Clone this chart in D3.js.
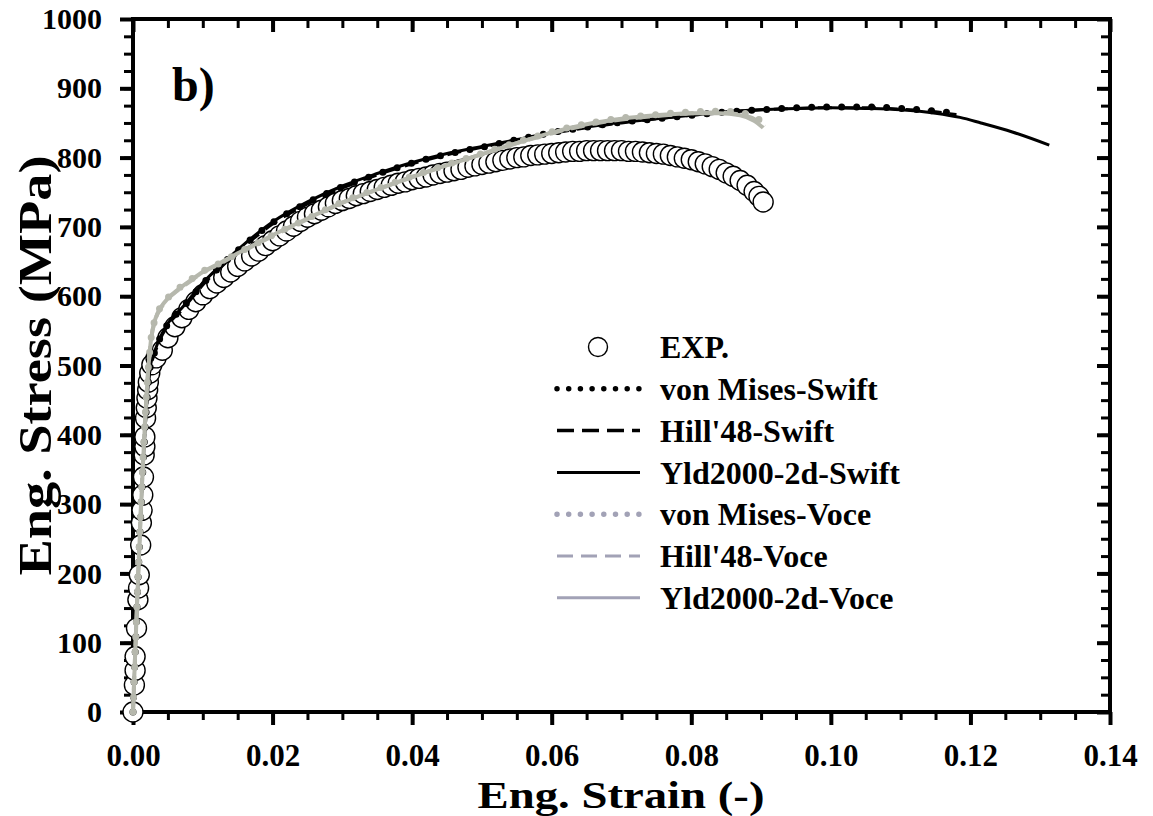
<!DOCTYPE html>
<html>
<head>
<meta charset="utf-8">
<title>Eng. stress-strain b)</title>
<script src="https://cdnjs.cloudflare.com/ajax/libs/d3/7.8.5/d3.min.js"></script>
<style>
  html, body { margin: 0; padding: 0; background: #fff; }
  svg { display: block; font-family: 'Liberation Serif', 'Times New Roman', serif; font-weight: bold; }
</style>
</head>
<body>
<svg id="chart" width="1153" height="816"></svg>
<script>
// experiment (circles)
const expStrain = [0, 0.0002, 0.0003, 0.0003, 0.0005, 0.0007, 0.0008, 0.0009, 0.0011, 0.0012, 0.0013, 0.0014, 0.0015, 0.0016, 0.0017, 0.0017, 0.0018, 0.0019, 0.002, 0.0021, 0.0022, 0.0024, 0.0027, 0.0033, 0.0042,
  0.005, 0.006, 0.007, 0.008, 0.009, 0.010, 0.011, 0.012, 0.013, 0.014, 0.015, 0.016, 0.017, 0.018, 0.019, 0.020,
  0.021, 0.022, 0.023, 0.024, 0.025, 0.026, 0.027, 0.028, 0.029, 0.030, 0.031, 0.032, 0.033, 0.034, 0.035,
  0.036, 0.037, 0.038, 0.039, 0.040, 0.041, 0.042, 0.043, 0.044, 0.045, 0.046, 0.047, 0.048, 0.049, 0.050,
  0.051, 0.052, 0.053, 0.054, 0.055, 0.056, 0.057, 0.058, 0.059, 0.060, 0.061, 0.062, 0.063, 0.064, 0.065,
  0.066, 0.067, 0.068, 0.069, 0.070, 0.071, 0.072, 0.073, 0.074, 0.075, 0.076, 0.077, 0.078, 0.079, 0.080,
  0.081, 0.082, 0.083, 0.084, 0.085, 0.086, 0.087, 0.088, 0.089, 0.0897, 0.0903];
const expStress = [0, 39, 60, 80, 121, 162, 179, 198, 241, 273, 291, 313, 339, 371, 383, 397, 424, 439, 453, 465, 476, 489, 501, 511, 522,
  540, 556, 569, 581, 592, 602, 611, 619, 627, 635, 643, 651, 658, 665, 673, 680,
  687, 694, 701, 708, 714, 719, 724, 729, 734, 738, 741, 745, 748, 751, 754,
  757, 760, 763, 765, 768, 770, 772, 775, 777, 779, 781, 783, 786, 788, 790,
  792, 794, 796, 798, 800, 801, 803, 804, 805, 806, 807, 808, 809, 809, 810,
  810, 810, 810, 810, 810, 809, 809, 808, 807, 806, 805, 803, 801, 799, 797,
  794, 791, 787, 783, 778, 773, 767, 760, 751, 744, 736];

// Swift hardening models
const vmSwiftStrain = [0, 0.0025, 0.003, 0.0036, 0.005, 0.007, 0.0085, 0.01, 0.0125, 0.015, 0.0175, 0.02, 0.025, 0.03, 0.035, 0.04, 0.045, 0.05, 0.055, 0.06, 0.065, 0.07, 0.075, 0.08, 0.085, 0.09, 0.095, 0.1, 0.105, 0.11, 0.115, 0.1185];
const vmSwiftStress = [0, 500, 516, 533, 560, 582, 600, 618, 643, 666, 687, 706, 735, 758, 776, 792, 805, 815, 826, 836, 844, 851, 856, 861, 866, 869, 872, 873, 873, 871, 867, 863];
const hillSwiftStrain = [0, 0.0025, 0.003, 0.0036, 0.005, 0.007, 0.0085, 0.01, 0.0125, 0.015, 0.0175, 0.02, 0.025, 0.03, 0.035, 0.04, 0.045, 0.05, 0.055, 0.06, 0.065, 0.07, 0.075, 0.08, 0.085, 0.09, 0.095, 0.1, 0.105, 0.11, 0.115, 0.118];
const hillSwiftStress = [0, 498, 514, 531, 558, 580, 598, 616, 641, 664, 685, 704, 733, 756, 775, 791, 804, 815, 825, 835, 843, 850, 856, 861, 865, 869, 871, 872, 872, 870, 866, 862];
const yldSwiftStrain = [0, 0.0025, 0.003, 0.0036, 0.005, 0.007, 0.0085, 0.01, 0.0125, 0.015, 0.0175, 0.02, 0.025, 0.03, 0.035, 0.04, 0.045, 0.05, 0.055, 0.06, 0.065, 0.07, 0.075, 0.08, 0.085, 0.09, 0.095, 0.1, 0.105, 0.11, 0.115, 0.1185, 0.1215, 0.126, 0.1313];
const yldSwiftStress = [0, 500, 517, 534, 561, 583, 601, 619, 644, 667, 688, 707, 736, 759, 777, 793, 806, 816, 826, 836, 844, 851, 856, 861, 866, 869, 871, 872, 871, 869, 864, 858, 850, 837, 818];

// Voce hardening models
const vmVoceStrain = [0, 0.0023, 0.0026, 0.0032, 0.004, 0.005, 0.0065, 0.008, 0.01, 0.0125, 0.015, 0.0175, 0.02, 0.025, 0.03, 0.035, 0.04, 0.045, 0.05, 0.055, 0.06, 0.065, 0.07, 0.075, 0.08, 0.084, 0.087, 0.089, 0.0908];
const vmVoceStress = [0, 510, 540, 568, 585, 598, 611, 622, 636, 648, 662, 675, 688, 712, 736, 755, 773, 790, 806, 822, 837, 849, 857, 862, 866, 867, 865, 859, 847];
const hillVoceStrain = [0, 0.0023, 0.0026, 0.0032, 0.004, 0.005, 0.0065, 0.008, 0.01, 0.0125, 0.015, 0.0175, 0.02, 0.025, 0.03, 0.035, 0.04, 0.045, 0.05, 0.055, 0.06, 0.065, 0.07, 0.075, 0.08, 0.084, 0.087, 0.0895, 0.0905];
const hillVoceStress = [0, 508, 538, 566, 583, 596, 609, 620, 634, 647, 661, 674, 687, 711, 735, 754, 772, 789, 805, 821, 835, 847, 855, 860, 864, 865, 862, 853, 845];
const yldVoceStrain = [0, 0.0023, 0.0026, 0.0032, 0.004, 0.005, 0.0065, 0.008, 0.01, 0.0125, 0.015, 0.0175, 0.02, 0.025, 0.03, 0.035, 0.04, 0.045, 0.05, 0.055, 0.06, 0.065, 0.07, 0.075, 0.08, 0.084, 0.087, 0.089, 0.0903];
const yldVoceStress = [0, 509, 539, 567, 584, 597, 610, 621, 635, 648, 662, 675, 688, 712, 735, 754, 772, 789, 805, 821, 836, 848, 856, 861, 864, 864, 861, 853, 843];

const xTicks = [0, 0.02, 0.04, 0.06, 0.08, 0.10, 0.12, 0.14];
const yTicks = [0, 100, 200, 300, 400, 500, 600, 700, 800, 900, 1000];
const legendNames = ["EXP.", "von Mises-Swift", "Hill'48-Swift", "Yld2000-2d-Swift", "von Mises-Voce", "Hill'48-Voce", "Yld2000-2d-Voce"];

const plotGray = "#b6b8ad";
const legGray = "#a2a2b6";
const serif = "'Liberation Serif', 'Times New Roman', serif";

const svg = d3.select("#chart");
const mLeft = 133, mRight = 1110, mTop = 19, mBottom = 712;

const x = d3.scaleLinear().domain([0, 0.14]).range([mLeft, mRight]);
const y = d3.scaleLinear().domain([0, 1000]).range([mBottom, mTop]);

const minorX = d3.range(0, 0.14001, 0.005);
const minorY = d3.range(0, 1000.1, 25);

function styleTicks(g, w) {
  g.select(".domain").remove();
  g.attr("font-family", serif).attr("font-weight", "bold");
  g.selectAll(".tick line").attr("stroke", "#000").attr("stroke-width", w);
}

// minor ticks
svg.append("g").attr("transform", `translate(0,${mBottom})`)
  .call(d3.axisBottom(x).tickValues(minorX).tickSize(8).tickFormat(""))
  .call(g => styleTicks(g, 3));
svg.append("g").attr("transform", `translate(0,${mTop})`)
  .call(d3.axisTop(x).tickValues(minorX).tickSize(-9).tickFormat(""))
  .call(g => styleTicks(g, 3));
svg.append("g").attr("transform", `translate(${mLeft},0)`)
  .call(d3.axisLeft(y).tickValues(minorY).tickSize(9).tickFormat(""))
  .call(g => styleTicks(g, 3));
svg.append("g").attr("transform", `translate(${mRight},0)`)
  .call(d3.axisRight(y).tickValues(minorY).tickSize(-9).tickFormat(""))
  .call(g => styleTicks(g, 3));

// major ticks + labels
svg.append("g").attr("transform", `translate(0,${mBottom})`)
  .call(d3.axisBottom(x).tickValues(xTicks).tickSize(13).tickPadding(19).tickFormat(d3.format(".2f")))
  .call(g => styleTicks(g, 4))
  .call(g => g.attr("font-size", 31).selectAll("text").attr("fill", "#000"));
svg.append("g").attr("transform", `translate(0,${mTop})`)
  .call(d3.axisTop(x).tickValues(xTicks).tickSize(-13).tickFormat(""))
  .call(g => styleTicks(g, 4));
svg.append("g").attr("transform", `translate(${mLeft},0)`)
  .call(d3.axisLeft(y).tickValues(yTicks).tickSize(13).tickPadding(18).tickFormat(d3.format("d")))
  .call(g => styleTicks(g, 4))
  .call(g => g.attr("font-size", 30).selectAll("text").attr("fill", "#000"));
svg.append("g").attr("transform", `translate(${mRight},0)`)
  .call(d3.axisRight(y).tickValues(yTicks).tickSize(-13).tickFormat(""))
  .call(g => styleTicks(g, 4));

// frame
svg.append("rect")
  .attr("x", mLeft).attr("y", mTop)
  .attr("width", mRight - mLeft).attr("height", mBottom - mTop)
  .attr("fill", "none").attr("stroke", "#000").attr("stroke-width", 4);

// axis titles
svg.append("text")
  .attr("x", 621).attr("y", 808)
  .attr("text-anchor", "middle").attr("font-size", 37)
  .attr("textLength", 287).attr("lengthAdjust", "spacingAndGlyphs")
  .text("Eng. Strain (-)");
svg.append("text")
  .attr("transform", `translate(51,${(mTop + mBottom) / 2}) rotate(-90)`)
  .attr("text-anchor", "middle").attr("font-size", 47)
  .attr("textLength", 420).attr("lengthAdjust", "spacingAndGlyphs")
  .text("Eng. Stress (MPa)");

svg.append("text")
  .attr("x", 172).attr("y", 101)
  .attr("font-size", 48)
  .text("b)");

// experiment
const expData = expStrain.map((s, i) => [s, expStress[i]]);
svg.append("g").selectAll("circle")
  .data(expData)
  .enter()
  .append("circle")
  .attr("cx", d => x(d[0]))
  .attr("cy", d => y(d[1]))
  .attr("r", 10)
  .attr("fill", "#fff")
  .attr("stroke", "#000")
  .attr("stroke-width", 1.4);

const line = d3.line().x(d => x(d[0])).y(d => y(d[1])).curve(d3.curveMonotoneX);

const series = [
  { sx: yldSwiftStrain, sy: yldSwiftStress, color: "#000", w: 3, dash: null },
  { sx: hillSwiftStrain, sy: hillSwiftStress, color: "#000", w: 3, dash: "14 8" },
  { sx: vmSwiftStrain, sy: vmSwiftStress, color: "#000", w: 7, dash: "0 15" },
  { sx: yldVoceStrain, sy: yldVoceStress, color: plotGray, w: 4, dash: null },
  { sx: hillVoceStrain, sy: hillVoceStress, color: plotGray, w: 4, dash: "14 8" },
  { sx: vmVoceStrain, sy: vmVoceStress, color: plotGray, w: 7, dash: "0 15" }
];

series.forEach(s => {
  svg.append("path")
    .datum(s.sx.map((v, i) => [v, s.sy[i]]))
    .attr("d", line)
    .attr("fill", "none")
    .attr("stroke", s.color)
    .attr("stroke-width", s.w)
    .attr("stroke-linecap", s.dash === "0 15" ? "round" : "butt")
    .attr("stroke-dasharray", s.dash);
});

// legend
const legendStyles = [
  null,
  { color: "#000", w: 5.5, dash: "0 11.7", cap: "round" },
  { color: "#000", w: 3.5, dash: "17 8", cap: "butt" },
  { color: "#000", w: 3, dash: null, cap: "butt" },
  { color: legGray, w: 5.5, dash: "0 11.7", cap: "round" },
  { color: legGray, w: 3, dash: "16 8", cap: "butt" },
  { color: legGray, w: 3, dash: null, cap: "butt" }
];
const legend = svg.append("g");
legendNames.forEach((name, i) => {
  const cy = 347 + i * 41.8;
  if (i === 0) {
    legend.append("circle").attr("cx", 598).attr("cy", cy).attr("r", 9.5)
      .attr("fill", "#fff").attr("stroke", "#000").attr("stroke-width", 1.4);
  } else {
    const st = legendStyles[i];
    legend.append("line")
      .attr("x1", 557).attr("x2", 640).attr("y1", cy).attr("y2", cy)
      .attr("stroke", st.color).attr("stroke-width", st.w)
      .attr("stroke-linecap", st.cap).attr("stroke-dasharray", st.dash);
  }
  legend.append("text")
    .attr("x", 660).attr("y", cy).attr("dy", "0.35em")
    .attr("font-size", 32)
    .text(name);
});
</script>
</body>
</html>
